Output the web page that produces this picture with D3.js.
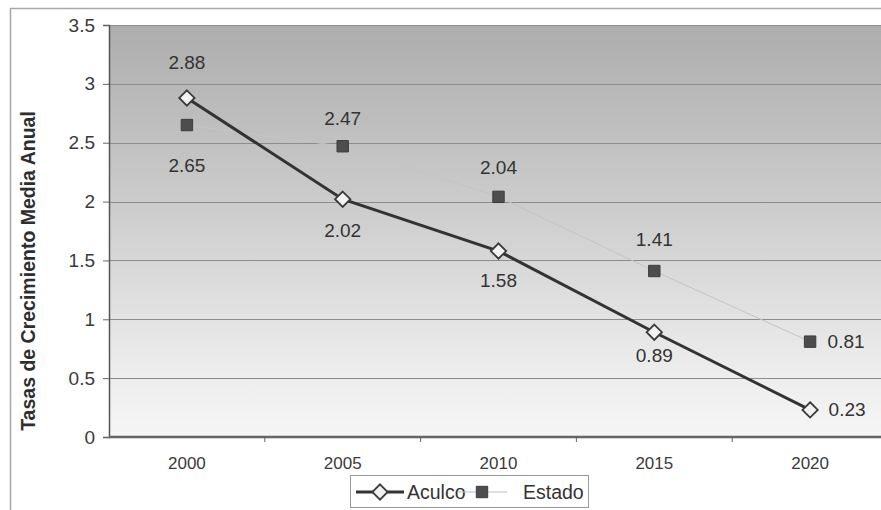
<!DOCTYPE html>
<html>
<head>
<meta charset="utf-8">
<script src="https://cdn.jsdelivr.net/npm/d3@7"></script>
<style>
  html, body { margin: 0; padding: 0; background: #ffffff; }
  svg { display: block; font-family: Arial, "Liberation Sans", sans-serif; }
</style>
</head>
<body>
<svg id="chart" width="881" height="510"></svg>
<script>
// Annual average growth rates, Aculco vs. Estado
const years = ["2000", "2005", "2010", "2015", "2020"];
const aculco = [2.88, 2.02, 1.58, 0.89, 0.23];
const estado = [2.65, 2.47, 2.04, 1.41, 0.81];
const yTicks = [0, 0.5, 1, 1.5, 2, 2.5, 3, 3.5];
const seriesNames = ["Aculco", "Estado"];
const yTitle = "Tasas de Crecimiento Media Anual";

// label placement per point (offsets in px from the marker)
const aculcoLabelPos = [
  { dx: 0, dy: -35 }, { dx: 0, dy: 31 }, { dx: 0, dy: 29 }, { dx: 0, dy: 23 }, { dx: 37, dy: 0 }
];
const estadoLabelPos = [
  { dx: 0, dy: 40 }, { dx: 0, dy: -28 }, { dx: 0, dy: -29 }, { dx: 0, dy: -32 }, { dx: 36, dy: 0 }
];

const svg = d3.select("#chart");
const plot = { left: 109, top: 25, bottom: 437, right: 888 };

// outer chart frame
svg.append("rect")
  .attr("x", 10.5).attr("y", 8.5)
  .attr("width", 900).attr("height", 560)
  .attr("fill", "#ffffff")
  .attr("stroke", "#a8a8a8").attr("stroke-width", 1.5);

const x = d3.scaleBand().domain(years).range([plot.left, plot.right]);
const y = d3.scaleLinear().domain([0, 3.5]).range([plot.bottom, plot.top]);
const cx = d => x(d) + x.bandwidth() / 2;

// plot area with vertical grey gradient
const defs = svg.append("defs");
const grad = defs.append("linearGradient")
  .attr("id", "plotFill").attr("x1", 0).attr("y1", 0).attr("x2", 0).attr("y2", 1);
grad.append("stop").attr("offset", "0%").attr("stop-color", "#adadad");
grad.append("stop").attr("offset", "45%").attr("stop-color", "#cdcdcd");
grad.append("stop").attr("offset", "80%").attr("stop-color", "#eaeaea");
grad.append("stop").attr("offset", "100%").attr("stop-color", "#f6f6f6");

svg.append("rect")
  .attr("x", plot.left).attr("y", plot.top)
  .attr("width", plot.right - plot.left).attr("height", plot.bottom - plot.top)
  .attr("fill", "url(#plotFill)");

// horizontal gridlines
svg.append("g")
  .selectAll("line")
  .data(yTicks.filter(t => t > 0))
  .join("line")
  .attr("x1", plot.left).attr("x2", plot.right)
  .attr("y1", d => Math.round(y(d)) + 0.5).attr("y2", d => Math.round(y(d)) + 0.5)
  .attr("stroke", "#8c8c8c").attr("stroke-width", 1);

// y axis
const yAxis = svg.append("g")
  .attr("transform", `translate(${plot.left},0)`)
  .call(d3.axisLeft(y).tickValues(yTicks).tickSize(6).tickPadding(8).tickFormat(d3.format("")));
yAxis.select(".domain").attr("stroke", "#555").attr("stroke-width", 1.5);
yAxis.selectAll(".tick line").attr("stroke", "#666");
yAxis.selectAll("text")
  .attr("font-size", 19).attr("fill", "#3a3a3a")
  .attr("font-family", "Arial, 'Liberation Sans', sans-serif");

// x axis (ticks sit between categories)
const xAxisG = svg.append("g").attr("transform", `translate(0,${plot.bottom})`);
xAxisG.append("line")
  .attr("x1", plot.left).attr("x2", plot.right)
  .attr("y1", 0).attr("y2", 0)
  .attr("stroke", "#666").attr("stroke-width", 2.5);
xAxisG.selectAll("line.tick")
  .data(years.slice(1))
  .join("line").attr("class", "tick")
  .attr("x1", d => x(d)).attr("x2", d => x(d))
  .attr("y1", 0).attr("y2", 5)
  .attr("stroke", "#666");
xAxisG.selectAll("text")
  .data(years)
  .join("text")
  .attr("x", d => cx(d)).attr("y", 32)
  .attr("text-anchor", "middle")
  .attr("font-size", 17).attr("fill", "#3a3a3a")
  .text(d => d);

// y axis title
svg.append("text")
  .attr("transform", `translate(35,${271}) rotate(-90)`)
  .attr("text-anchor", "middle")
  .attr("font-size", 19.5).attr("font-weight", "bold").attr("fill", "#2e2e2e")
  .text(yTitle);

// Estado: faint connecting line + square markers
const lineGen = d3.line().x((d, i) => cx(years[i])).y(d => y(d));
svg.append("path")
  .datum(estado)
  .attr("d", lineGen)
  .attr("fill", "none").attr("stroke", "#c4c4c4").attr("stroke-width", 1);

// Aculco: heavy line + diamond markers
svg.append("path")
  .datum(aculco)
  .attr("d", lineGen)
  .attr("fill", "none").attr("stroke", "#333333").attr("stroke-width", 3);

const square = d3.symbol().type(d3.symbolSquare).size(130);
const diamond = d3.symbol().type(d3.symbolDiamond2).size(150);

svg.append("g").selectAll("path")
  .data(estado)
  .join("path")
  .attr("transform", (d, i) => `translate(${cx(years[i])},${y(d)})`)
  .attr("d", square)
  .attr("fill", "#4d4d4d").attr("stroke", "#3d3d3d").attr("stroke-width", 1);

svg.append("g").selectAll("path")
  .data(aculco)
  .join("path")
  .attr("transform", (d, i) => `translate(${cx(years[i])},${y(d)})`)
  .attr("d", diamond)
  .attr("fill", "#f2f2f2").attr("stroke", "#3a3a3a").attr("stroke-width", 1.8);

// data labels
function drawLabels(values, pos) {
  svg.append("g").selectAll("text")
    .data(values)
    .join("text")
    .attr("x", (d, i) => cx(years[i]) + pos[i].dx)
    .attr("y", (d, i) => y(d) + pos[i].dy)
    .attr("text-anchor", "middle")
    .attr("dominant-baseline", "central")
    .attr("font-size", 19).attr("fill", "#333")
    .text(d => d3.format(".2f")(d));
}
drawLabels(aculco, aculcoLabelPos);
drawLabels(estado, estadoLabelPos);

// legend
const lg = svg.append("g").attr("transform", "translate(350,475)");
lg.append("rect")
  .attr("x", 0.5).attr("y", 0.5).attr("width", 238).attr("height", 32)
  .attr("fill", "#ffffff").attr("stroke", "#9a9a9a").attr("stroke-width", 1);
lg.append("line")
  .attr("x1", 6).attr("x2", 54).attr("y1", 17).attr("y2", 17)
  .attr("stroke", "#333").attr("stroke-width", 3);
lg.append("path")
  .attr("transform", "translate(30,17)")
  .attr("d", diamond)
  .attr("fill", "#f2f2f2").attr("stroke", "#3a3a3a").attr("stroke-width", 1.8);
lg.append("text")
  .attr("x", 57).attr("y", 17).attr("dominant-baseline", "central")
  .attr("font-size", 19.5).attr("fill", "#333").text(seriesNames[0]);
lg.append("line")
  .attr("x1", 108).attr("x2", 157).attr("y1", 17).attr("y2", 17)
  .attr("stroke", "#bdbdbd").attr("stroke-width", 1);
lg.append("path")
  .attr("transform", "translate(132,17)")
  .attr("d", square)
  .attr("fill", "#4d4d4d").attr("stroke", "#3d3d3d");
lg.append("text")
  .attr("x", 173).attr("y", 17).attr("dominant-baseline", "central")
  .attr("font-size", 19.5).attr("fill", "#333").text(seriesNames[1]);
</script>
</body>
</html>
